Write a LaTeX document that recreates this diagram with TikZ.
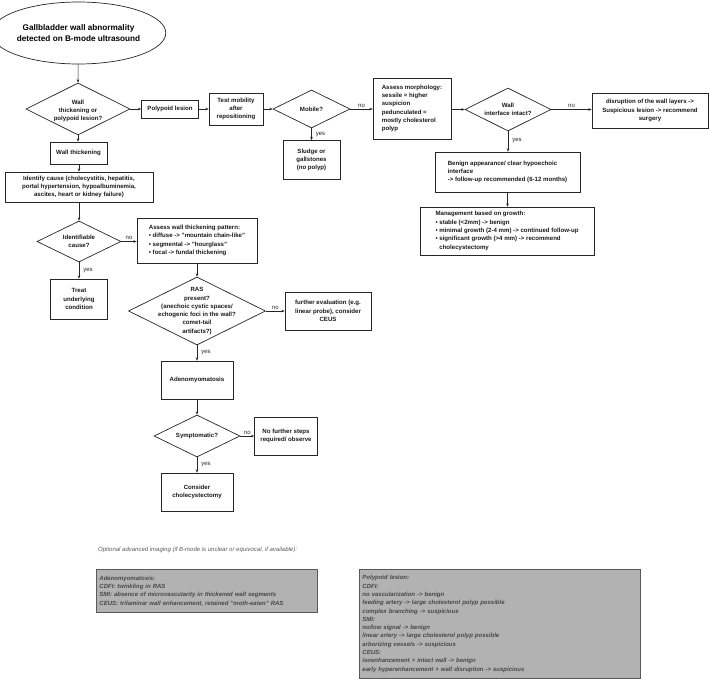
\documentclass[tikz,border=0pt]{standalone}
\usepackage{fontspec}
\setmainfont{Liberation Sans}
\usetikzlibrary{shapes.geometric,arrows.meta}
\begin{document}
\begin{tikzpicture}[x=1pt,y=-1pt,
 base/.style={font=\fontsize{6.1}{8.3}\selectfont\bfseries, align=center, text=black!90},
 box/.style={base, draw=black!85, line width=0.7pt, inner sep=2pt},
 lbox/.style={box, align=left},
 dia/.style={diamond, draw=black!85, line width=0.7pt, inner sep=0pt, aspect=2},
 dtext/.style={base, inner sep=0pt},
 arr/.style={-{Stealth[length=3.2pt,width=2.6pt]}, line width=0.6pt, draw=black!85},
 lbl/.style={font=\fontsize{6}{7}\selectfont, inner sep=1.5pt, text=black!85},
 rlbl/.style={lbl, right, inner xsep=4pt},
 gbox/.style={draw=black!65, fill=black!30, line width=0.9pt, font=\fontsize{6}{8.3}\selectfont\bfseries\itshape, text=black!72, align=left, inner xsep=3pt, inner ysep=2pt}
]
\useasboundingbox (0,0) rectangle (709,679);

% top start
\node[ellipse, draw=black!85, line width=0.7pt, minimum width=154pt, minimum height=62pt, inner sep=0pt,
      font=\fontsize{8.2}{10.7}\selectfont\bfseries, align=center] (start) at (78.5,33) {Gallbladder wall abnormality\\detected on B-mode ultrasound};

% first decision
\node[dia, minimum width=104pt, minimum height=52pt] (d1) at (78,109) {};
\node[dtext] (d1t) at (78,111) {Wall\\thickening or\\polypoid lesion?};

% polyp branch
\node[box, minimum width=57pt, minimum height=18pt] (pl) at (170,109) {Polypoid lesion};
\node[box, minimum width=54pt, minimum height=32pt] (tm) at (236,109) {Test mobility\\after\\repositioning};
\node[dia, minimum width=77pt, minimum height=38pt] (mob) at (311.5,109) {};
\node[dtext] (mobt) at (311.5,109) {Mobile?};
\node[box, minimum width=57pt, minimum height=39pt] (sl) at (311.5,160) {Sludge or\\gallstones\\(no polyp)};
\node[lbox, minimum width=78pt, minimum height=61pt] (mor) at (412,108.5) {Assess morphology:\\sessile = higher\\suspicion\\pedunculated =\\mostly cholesterol\\polyp};
\node[dia, minimum width=86pt, minimum height=43pt] (wi) at (508,109.5) {};
\node[dtext] (wit) at (508,109.5) {Wall\\interface intact?};
\node[box, minimum width=116pt, minimum height=35pt] (dis) at (650,110.5) {disruption of the wall layers ->\\Suspicious lesion -> recommend\\surgery};
\node[lbox, minimum width=145pt, minimum height=40pt] (ben) at (507.5,172) {Benign appearance/ clear hypoechoic\\interface\\-> follow-up recommended (6-12 months)};
\node[lbox, minimum width=174pt, minimum height=48pt] (man) at (507,231) {Management based on growth:\\%
• stable (<2mm) -> benign\\%
• minimal growth (2-4 mm) -> continued follow-up\\%
• significant growth (>4 mm) -> recommend\\%
\hphantom{• }cholecystectomy};

% wall thickening branch
\node[box, minimum width=57pt, minimum height=22pt] (wt) at (78.5,153) {Wall thickening};
\node[box, minimum width=148pt, minimum height=30pt] (ic) at (79,187) {Identify cause (cholecystitis, hepatitis,\\portal hypertension, hypoalbuminemia,\\ascites, heart or kidney failure)};
\node[dia, minimum width=84pt, minimum height=41pt] (idc) at (79,241.5) {};
\node[dtext] (idct) at (79,241.5) {Identifiable\\cause?};
\node[box, minimum width=57pt, minimum height=40pt] (tr) at (79,299) {Treat\\underlying\\condition};
\node[lbox, minimum width=120pt, minimum height=45pt] (aw) at (197,240.5) {Assess wall thickening pattern:\\%
• diffuse -> "mountain chain-like"\\%
• segmental -> "hourglass"\\%
• focal -> fundal thickening};
\node[dia, minimum width=137pt, minimum height=68pt] (ras) at (197,311) {};
\node[dtext] (rast) at (197,311) {RAS\\present?\\(anechoic cystic spaces/\\echogenic foci in the wall?\\comet-tail\\artifacts?)};
\node[box, minimum width=86pt, minimum height=38pt] (fe) at (328,311) {further evaluation (e.g.\\linear probe), consider\\CEUS};
\node[box, minimum width=72pt, minimum height=38pt] (ad) at (197,380) {Adenomyomatosis};
\node[dia, minimum width=86pt, minimum height=42pt] (sy) at (197,436) {};
\node[dtext] (syt) at (197,436) {Symptomatic?};
\node[box, minimum width=63pt, minimum height=38pt] (nf) at (286,436) {No further steps\\required/ observe};
\node[box, minimum width=72pt, minimum height=38pt] (cc) at (197,492) {Consider\\cholecystectomy};

% connectors
\draw[arr] (start) -- (d1.north);
\draw[arr] (d1.east) -- (pl.west);
\draw[arr] (pl) -- (tm);
\draw[arr] (tm) -- (mob.west);
\draw[arr] (mob.east) -- node[lbl, above] {no} (mor.west |- mob.east);
\draw[arr] (mob.south) -- node[rlbl, pos=0.5] {yes} (sl.north);
\draw[arr] (mor.east |- wi.west) -- (wi.west);
\draw[arr] (wi.east) -- node[lbl, above] {no} (dis.west |- wi.east);
\draw[arr] (wi.south) -- node[rlbl, pos=0.45] {yes} (ben.north -| wi.south);
\draw[arr] (ben.south) -- (man.north -| ben.south);
\draw[arr] (d1.south) -- (wt.north -| d1.south);
\draw[arr] (wt.south -| ic.north) -- (ic.north);
\draw[arr] (ic.south) -- (idc.north);
\draw[arr] (idc.east) -- node[lbl, above] {no} (aw.west |- idc.east);
\draw[arr] (idc.south) -- node[rlbl] {yes} (tr.north);
\draw[arr] (aw.south) -- (ras.north);
\draw[arr] (ras.east) -- node[lbl, above] {no} (fe.west);
\draw[arr] (ras.south) -- node[rlbl] {yes} (ad.north);
\draw[arr] (ad.south) -- (sy.north);
\draw[arr] (sy.east) -- node[lbl, above] {no} (nf.west);
\draw[arr] (sy.south) -- node[rlbl] {yes} (cc.north);

% optional imaging
\node[anchor=west, font=\fontsize{6}{7}\selectfont\itshape, text=black!65, inner sep=0pt] (opt) at (98,550) {Optional advanced imaging (if B-mode is unclear or equivocal, if available):};
\node[gbox, anchor=north west, minimum width=221pt, minimum height=43pt, text width=215pt] (ga) at (96,569) {Adenomyomatosis:\\CDFI: twinkling in RAS\\SMI: absence of microvascularity in thickened wall segments\\CEUS: trilaminar wall enhancement, retained "moth-eaten" RAS};
\node[gbox, anchor=north west, minimum width=281pt, minimum height=109pt, text width=275pt] (gp) at (359,569) {Polypoid lesion:\\CDFI:\\no vascularization -> benign\\feeding artery -> large cholesterol polyp possible\\complex branching -> suspicious\\SMI:\\no/low signal -> benign\\linear artery -> large cholesterol polyp possible\\arborizing vessels -> suspicious\\CEUS:\\isoenhancement + intact wall -> benign\\early hyperenhancement + wall disruption -> suspicious};
\end{tikzpicture}
\end{document}
